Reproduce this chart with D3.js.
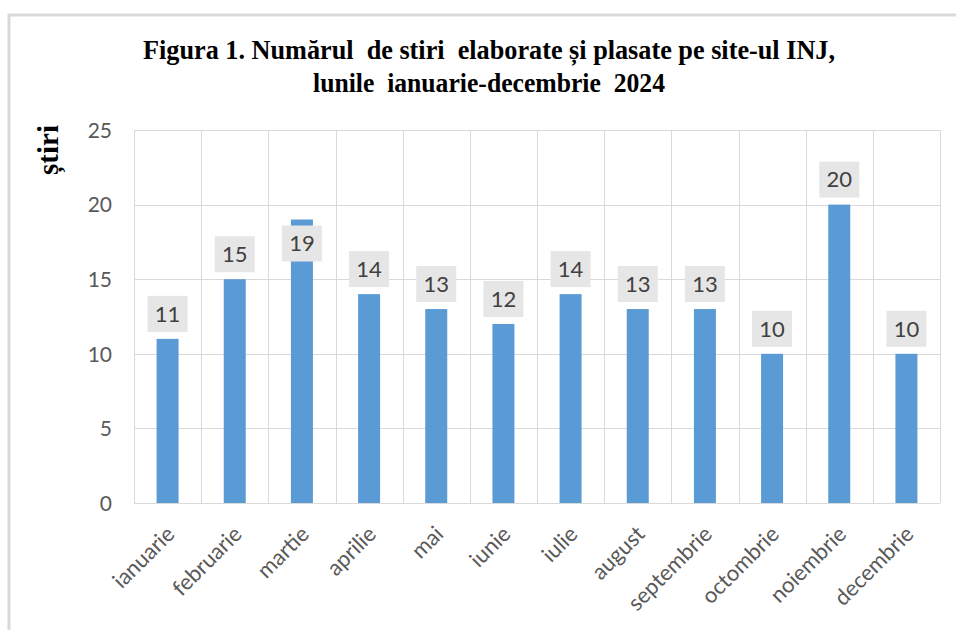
<!DOCTYPE html>
<html>
<head>
<meta charset="utf-8">
<script src="https://cdn.jsdelivr.net/npm/d3@7"></script>
<style>
  html, body { margin: 0; padding: 0; background: #fff; }
  svg { display: block; }
</style>
</head>
<body>
<svg id="chart" width="956" height="630"></svg>
<script>
const months = ["ianuarie","februarie","martie","aprilie","mai","iunie","iulie","august","septembrie","octombrie","noiembrie","decembrie"];
const counts = [11, 15, 19, 14, 13, 12, 14, 13, 13, 10, 20, 10];
const yTicks = [0, 5, 10, 15, 20, 25];
const titleLines = ["Figura 1. Numărul  de stiri  elaborate și plasate pe site-ul INJ,", "lunile  ianuarie-decembrie  2024"];
const yAxisTitle = "știri";

const svg = d3.select("#chart");
const W = 956, H = 630;
const plot = {left: 134, right: 940, top: 130, bottom: 503};

// outer frame (extends beyond viewport on right/bottom)
svg.append("rect")
  .attr("x", 9).attr("y", 15)
  .attr("width", W + 20).attr("height", H + 20)
  .attr("fill", "#fff").attr("stroke", "#d9d9d9").attr("stroke-width", 3);

// title (keep the double spaces of the original)
const keepSpaces = s => s.replace(/  /g, " \u00a0");
const title = svg.append("g")
  .attr("font-family", "'Liberation Serif', 'Times New Roman', serif")
  .attr("font-weight", "bold").attr("fill", "#000");
title.append("text").attr("x", 489).attr("y", 59).attr("text-anchor", "middle")
  .attr("font-size", 27).attr("textLength", 692).attr("lengthAdjust", "spacingAndGlyphs")
  .text(keepSpaces(titleLines[0]));
title.append("text").attr("x", 489).attr("y", 92).attr("text-anchor", "middle")
  .attr("font-size", 27).attr("textLength", 352).attr("lengthAdjust", "spacingAndGlyphs")
  .text(keepSpaces(titleLines[1]));

// scales
const x = d3.scaleBand().domain(months).range([plot.left, plot.right]).padding(0);
const y = d3.scaleLinear().domain([0, 25]).range([plot.bottom, plot.top]);

const grid = "#d9d9d9";
svg.append("g").selectAll("line").data(yTicks).join("line")
  .attr("x1", plot.left).attr("x2", plot.right)
  .attr("y1", d => Math.round(y(d)) + 0.5).attr("y2", d => Math.round(y(d)) + 0.5)
  .attr("stroke", grid).attr("stroke-width", 1);
const bounds = months.map(m => x(m)).concat([plot.right]);
svg.append("g").selectAll("line").data(bounds).join("line")
  .attr("x1", d => Math.round(d) + 0.5).attr("x2", d => Math.round(d) + 0.5)
  .attr("y1", plot.top).attr("y2", plot.bottom)
  .attr("stroke", grid).attr("stroke-width", 1);

// y axis labels
const axisFont = "Lato, 'Open Sans', 'Noto Sans', sans-serif";
const yAxis = d3.axisLeft(y).tickValues(yTicks).tickSize(0).tickPadding(0);
const yg = svg.append("g").attr("transform", `translate(112,0)`).call(yAxis);
yg.select(".domain").remove();
yg.selectAll("text").attr("font-family", axisFont).attr("font-size", 21)
  .attr("fill", "#595959").attr("dy", "0.35em");

// x axis labels
const xAxis = d3.axisBottom(x).tickSize(0).tickPadding(0);
const xg = svg.append("g").attr("transform", `translate(0,${plot.bottom})`).call(xAxis);
xg.select(".domain").remove();
xg.selectAll("text")
  .attr("font-family", axisFont).attr("font-size", 22).attr("fill", "#595959")
  .attr("text-anchor", "end")
  .attr("transform", "translate(3,27) rotate(-45)")
  .attr("x", 0).attr("y", 0).attr("dy", "0.35em");

// y axis title
svg.append("text")
  .attr("transform", "translate(58,150) rotate(-90)")
  .attr("text-anchor", "middle")
  .attr("font-family", "'Liberation Serif', 'Times New Roman', serif")
  .attr("font-weight", "bold").attr("font-size", 29).attr("fill", "#000")
  .text(yAxisTitle);

// bars
const bw = 22;
const data = months.map((m, i) => ({m, v: counts[i]}));
svg.append("g").selectAll("rect").data(data).join("rect")
  .attr("x", d => x(d.m) + x.bandwidth() / 2 - bw / 2)
  .attr("y", d => y(d.v))
  .attr("width", bw)
  .attr("height", d => y(0) - y(d.v))
  .attr("fill", "#5b9bd5");

// data labels (one label was moved down in the original)
const labelShift = {"martie": 49};
const lbl = svg.append("g").selectAll("g").data(data).join("g")
  .attr("transform", d => `translate(${x(d.m) + x.bandwidth() / 2},${y(d.v) - 25 + (labelShift[d.m] || 0)})`);
lbl.append("rect").attr("x", -20).attr("y", -18).attr("width", 40).attr("height", 36)
  .attr("fill", "#e7e6e6");
lbl.append("text").attr("text-anchor", "middle").attr("dy", "0.35em")
  .attr("font-family", axisFont).attr("font-size", 22).attr("fill", "#404040")
  .text(d => d.v);
</script>
</body>
</html>
